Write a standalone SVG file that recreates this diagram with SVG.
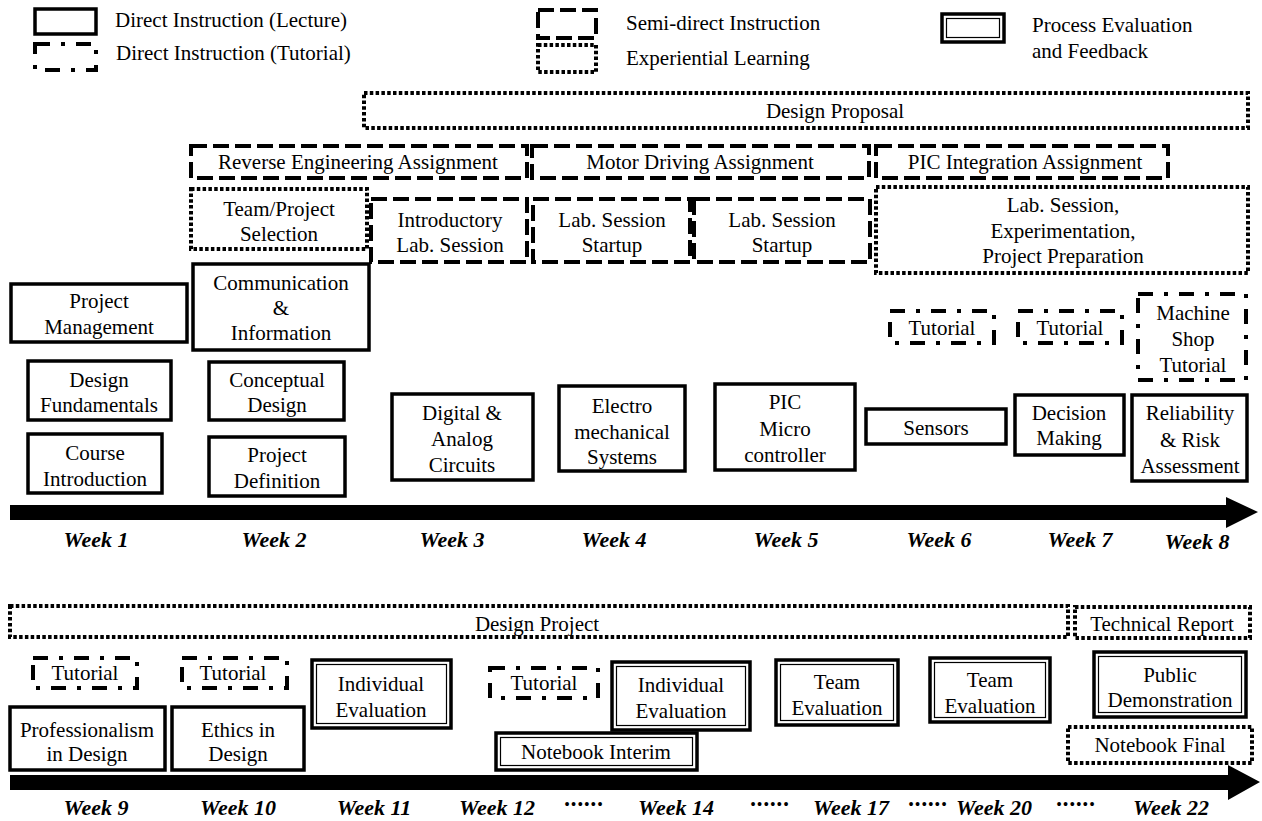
<svg xmlns="http://www.w3.org/2000/svg" width="1262" height="821" viewBox="0 0 1262 821">
<style>
text{font-family:"Liberation Serif","Times New Roman",serif;font-size:21px;fill:#000}
.c{text-anchor:middle}
.wk{font-weight:bold;font-style:italic;text-anchor:middle;font-size:22px}
.dots{text-anchor:middle;font-size:16px;letter-spacing:1px}
.lec{fill:#fff;stroke:#000;stroke-width:3.5}
.tut{fill:#fff;stroke:#000;stroke-width:4;stroke-dasharray:15 11 4 11}
.semi{fill:#fff;stroke:#000;stroke-width:4;stroke-dasharray:16 6}
.exp{fill:#fff;stroke:#000;stroke-width:4;stroke-dasharray:3.5 2.3}
.pe{fill:#fff;stroke:#000;stroke-width:3.5}
.pei{fill:none;stroke:#000;stroke-width:1.2}
</style>
<rect width="1262" height="821" fill="#fff"/>
<g id="legend">
<rect class="lec" x="35" y="9" width="61" height="25"/>
<text x="115" y="27">Direct Instruction (Lecture)</text>
<rect class="tut" x="35" y="44" width="61" height="26"/>
<text x="116" y="60">Direct Instruction (Tutorial)</text>
<rect class="semi" x="538" y="10" width="58" height="28"/>
<text x="626" y="30">Semi-direct Instruction</text>
<rect class="exp" x="538" y="45" width="58" height="27"/>
<text x="626" y="65">Experiential Learning</text>
<rect class="pe" x="942" y="14" width="62" height="28"/><rect class="pei" x="946.5" y="18.5" width="53" height="19"/>
<text x="1032" y="32">Process Evaluation</text>
<text x="1032" y="58">and Feedback</text>
</g>
<g id="connectors">
<path d="M10 505 H1226 V497 L1258 512 L1226 528 V520 H10 Z" fill="#000"/>
<path d="M10 775 H1228 V765 L1260 782 L1228 800 V790 H10 Z" fill="#000"/>
</g>
<g id="design-proposal"><rect class="exp" x="364" y="93" width="884" height="35"/><text class="c" x="835" y="118">Design Proposal</text></g>
<g id="reverse-eng"><rect class="semi" x="191" y="146" width="336" height="32"/><text class="c" x="358" y="169">Reverse Engineering Assignment</text></g>
<g id="motor-driving"><rect class="semi" x="532" y="146" width="337" height="32"/><text class="c" x="700" y="169">Motor Driving Assignment</text></g>
<g id="pic-integration"><rect class="semi" x="876" y="146" width="292" height="32"/><text class="c" x="1025" y="169">PIC Integration Assignment</text></g>
<g id="team-project"><rect class="exp" x="191" y="189" width="176" height="60"/><text class="c" x="279" y="216">Team/Project</text><text class="c" x="279" y="241">Selection</text></g>
<g id="intro-lab"><rect class="semi" x="371" y="199" width="156" height="63"/><text class="c" x="450" y="227">Introductory</text><text class="c" x="450" y="252">Lab. Session</text></g>
<g id="lab-startup-1"><rect class="semi" x="533" y="199" width="157" height="63"/><text class="c" x="612" y="227">Lab. Session</text><text class="c" x="612" y="252">Startup</text></g>
<g id="lab-startup-2"><rect class="semi" x="694" y="199" width="176" height="63"/><text class="c" x="782" y="227">Lab. Session</text><text class="c" x="782" y="252">Startup</text></g>
<g id="lab-experiment"><rect class="exp" x="876" y="187" width="372" height="86"/><text class="c" x="1063" y="212">Lab. Session,</text><text class="c" x="1063" y="238">Experimentation,</text><text class="c" x="1063" y="263">Project Preparation</text></g>
<g id="project-management"><rect class="lec" x="11" y="284" width="176" height="58"/><text class="c" x="99" y="308">Project</text><text class="c" x="99" y="334">Management</text></g>
<g id="communication"><rect class="lec" x="193" y="264" width="176" height="86"/><text class="c" x="281" y="290">Communication</text><text class="c" x="281" y="315">&amp;</text><text class="c" x="281" y="340">Information</text></g>
<g id="design-fundamentals"><rect class="lec" x="28" y="361" width="143" height="59"/><text class="c" x="99" y="387">Design</text><text class="c" x="99" y="412">Fundamentals</text></g>
<g id="conceptual-design"><rect class="lec" x="209" y="362" width="135" height="58"/><text class="c" x="277" y="387">Conceptual</text><text class="c" x="277" y="412">Design</text></g>
<g id="course-intro"><rect class="lec" x="28" y="434" width="134" height="59"/><text class="c" x="95" y="460">Course</text><text class="c" x="95" y="486">Introduction</text></g>
<g id="project-definition"><rect class="lec" x="209" y="437" width="136" height="59"/><text class="c" x="277" y="462">Project</text><text class="c" x="277" y="488">Definition</text></g>
<g id="digital-analog"><rect class="lec" x="392" y="394" width="141" height="86"/><text class="c" x="462" y="420">Digital &amp;</text><text class="c" x="462" y="446">Analog</text><text class="c" x="462" y="472">Circuits</text></g>
<g id="electromech"><rect class="lec" x="559" y="386" width="126" height="85"/><text class="c" x="622" y="413">Electro</text><text class="c" x="622" y="439">mechanical</text><text class="c" x="622" y="464">Systems</text></g>
<g id="pic-micro"><rect class="lec" x="715" y="384" width="140" height="86"/><text class="c" x="785" y="409">PIC</text><text class="c" x="785" y="436">Micro</text><text class="c" x="785" y="462">controller</text></g>
<g id="sensors"><rect class="lec" x="866" y="409" width="140" height="35"/><text class="c" x="936" y="435">Sensors</text></g>
<g id="decision-making"><rect class="lec" x="1015" y="395" width="109" height="60"/><text class="c" x="1069" y="420">Decision</text><text class="c" x="1069" y="445">Making</text></g>
<g id="reliability"><rect class="lec" x="1132" y="395" width="115" height="86"/><text class="c" x="1190" y="420">Reliability</text><text class="c" x="1190" y="447">&amp; Risk</text><text class="c" x="1190" y="473">Assessment</text></g>
<g id="tutorial-w6"><rect class="tut" x="890" y="311" width="104" height="32"/><text class="c" x="942" y="335">Tutorial</text></g>
<g id="tutorial-w7"><rect class="tut" x="1018" y="311" width="104" height="32"/><text class="c" x="1070" y="335">Tutorial</text></g>
<g id="machine-shop"><rect class="tut" x="1138" y="294" width="108" height="86"/><text class="c" x="1193" y="320">Machine</text><text class="c" x="1193" y="346">Shop</text><text class="c" x="1193" y="372">Tutorial</text></g>
<g id="weeks-1">
<text class="wk" x="96" y="547">Week 1</text>
<text class="wk" x="274" y="547">Week 2</text>
<text class="wk" x="452" y="547">Week 3</text>
<text class="wk" x="614" y="547">Week 4</text>
<text class="wk" x="786" y="547">Week 5</text>
<text class="wk" x="939" y="547">Week 6</text>
<text class="wk" x="1080" y="547">Week 7</text>
<text class="wk" x="1197" y="549">Week 8</text>
</g>
<g id="design-project"><rect class="exp" x="10" y="606" width="1058" height="31"/><text class="c" x="537" y="631">Design Project</text></g>
<g id="technical-report"><rect class="exp" x="1075" y="607" width="175" height="31"/><text class="c" x="1162" y="631">Technical Report</text></g>
<g id="tutorial-w9"><rect class="tut" x="33" y="658" width="104" height="30"/><text class="c" x="85" y="680">Tutorial</text></g>
<g id="tutorial-w10"><rect class="tut" x="182" y="658" width="105" height="30"/><text class="c" x="233" y="680">Tutorial</text></g>
<g id="indiv-eval-1"><rect class="pe" x="312" y="660" width="139" height="68"/><rect class="pei" x="316.5" y="664.5" width="130" height="59"/><text class="c" x="381" y="691">Individual</text><text class="c" x="381" y="717">Evaluation</text></g>
<g id="tutorial-w12"><rect class="tut" x="490" y="668" width="108" height="30"/><text class="c" x="544" y="690">Tutorial</text></g>
<g id="indiv-eval-2"><rect class="pe" x="612" y="662" width="138" height="68"/><rect class="pei" x="616.5" y="666.5" width="129" height="59"/><text class="c" x="681" y="692">Individual</text><text class="c" x="681" y="718">Evaluation</text></g>
<g id="notebook-interim"><rect class="pe" x="496" y="733" width="201" height="37"/><rect class="pei" x="500.5" y="737.5" width="192" height="28"/><text class="c" x="596" y="759">Notebook Interim</text></g>
<g id="team-eval-1"><rect class="pe" x="776" y="660" width="122" height="65"/><rect class="pei" x="780.5" y="664.5" width="113" height="56"/><text class="c" x="837" y="689">Team</text><text class="c" x="837" y="715">Evaluation</text></g>
<g id="team-eval-2"><rect class="pe" x="930" y="658" width="120" height="64"/><rect class="pei" x="934.5" y="662.5" width="111" height="55"/><text class="c" x="990" y="687">Team</text><text class="c" x="990" y="713">Evaluation</text></g>
<g id="public-demo"><rect class="pe" x="1094" y="652" width="152" height="65"/><rect class="pei" x="1098.5" y="656.5" width="143" height="56"/><text class="c" x="1170" y="682">Public</text><text class="c" x="1170" y="707">Demonstration</text></g>
<g id="notebook-final"><rect class="exp" x="1068" y="727" width="184" height="36"/><text class="c" x="1160" y="752">Notebook Final</text></g>
<g id="professionalism"><rect class="lec" x="10" y="707" width="155" height="63"/><text class="c" x="87" y="737">Professionalism</text><text class="c" x="87" y="761">in Design</text></g>
<g id="ethics"><rect class="lec" x="172" y="707" width="132" height="63"/><text class="c" x="238" y="737">Ethics in</text><text class="c" x="238" y="761">Design</text></g>
<g id="weeks-2">
<text class="wk" x="96" y="815">Week 9</text>
<text class="wk" x="238" y="815">Week 10</text>
<text class="wk" x="374" y="815">Week 11</text>
<text class="wk" x="497" y="815">Week 12</text>
<text class="dots" x="584" y="810">••••••</text>
<text class="wk" x="676" y="815">Week 14</text>
<text class="dots" x="770" y="810">••••••</text>
<text class="wk" x="851" y="815">Week 17</text>
<text class="dots" x="928" y="810">••••••</text>
<text class="wk" x="994" y="815">Week 20</text>
<text class="dots" x="1076" y="810">••••••</text>
<text class="wk" x="1171" y="815">Week 22</text>
</g>
</svg>
